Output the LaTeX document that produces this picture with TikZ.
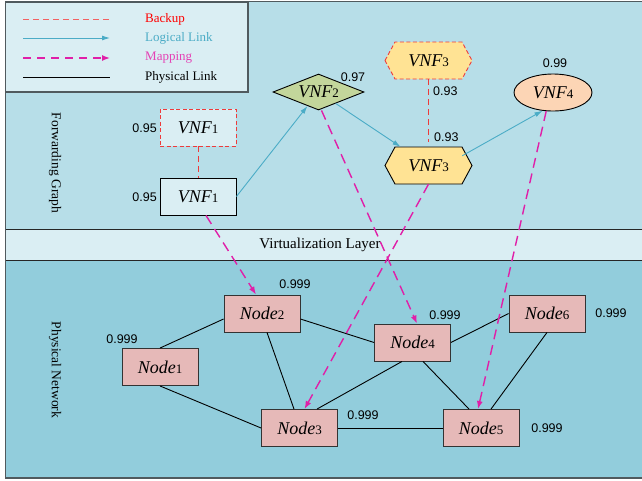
\documentclass[tikz,border=0pt]{standalone}
\usepackage{fontspec}
\setmainfont{Liberation Serif}
\newfontfamily\arialf{Liberation Sans}
\usetikzlibrary{arrows.meta,shapes.geometric,calc}
\definecolor{topbg}{HTML}{B7DEE8}
\definecolor{virtbg}{HTML}{DAEEF3}
\definecolor{botbg}{HTML}{92CDDC}
\definecolor{framec}{HTML}{505A5E}
\definecolor{nodefill}{HTML}{E6B9B8}
\definecolor{vnfgreen}{HTML}{C3D69B}
\definecolor{vnfyellow}{HTML}{FFE394}
\definecolor{vnfpeach}{HTML}{FCD5B5}
\definecolor{bkred}{HTML}{EE3B3B}
\definecolor{lgcyan}{HTML}{4BACC6}
\definecolor{mapmag}{HTML}{E01FA8}
\newcommand{\VNFlab}[1]{{\fontsize{18}{20}\selectfont\itshape VNF}{\fontsize{13}{14}\selectfont #1}}
\newcommand{\Nodelab}[1]{{\fontsize{18}{20}\selectfont\itshape Node}{\fontsize{13}{14}\selectfont #1}}
\tikzset{
  frameline/.style={draw=framec, line width=1.3pt},
  phys/.style={draw=black!80, line width=0.9pt, fill=nodefill, rectangle, minimum width=76pt, minimum height=37pt, inner sep=0pt},
  vnfbox/.style={rectangle, minimum width=76pt, minimum height=37pt, inner sep=0pt, fill=virtbg},
  hexnode/.style={rectangle, minimum width=87pt, minimum height=37pt, inner sep=0pt},
  prob/.style={font=\arialf\fontsize{12.5}{14}\selectfont, inner sep=0pt},
  legtext/.style={font=\fontsize{13}{15}\selectfont, anchor=west, inner sep=0pt},
  sidelabel/.style={font=\fontsize{13.5}{15}\selectfont, rotate=-90, inner sep=0pt},
  backupline/.style={draw=bkred, line width=1pt, dash pattern=on 6pt off 4pt},
  logical/.style={draw=lgcyan, line width=0.9pt, -{Latex[length=8pt,width=5pt]}},
  mapping/.style={draw=mapmag, line width=1.4pt, dash pattern=on 10pt off 6pt, -{Latex[length=8pt,width=6pt]}},
  physlink/.style={draw=black, line width=0.9pt},
}
\begin{document}
\begin{tikzpicture}[x=1pt,y=-1pt]
\useasboundingbox (0,0) rectangle (642,480);
% bands
\fill[topbg] (5,2) rectangle (642,229.5);
\fill[virtbg] (5,229.5) rectangle (642,260.5);
\fill[botbg] (5,260.5) rectangle (642,478);
\draw[black!85, line width=1.1pt] (5,229.5) -- (642,229.5);
\draw[black!85, line width=1.1pt] (5,260.5) -- (642,260.5);
\draw[frameline] (642,1.5) -- (5.5,1.5) -- (5.5,478) -- (642,478);
\node (virt) at (320,245) {\fontsize{15}{17}\selectfont Virtualization Layer};
\node[sidelabel] (fg) at (55,163) {Forwarding Graph};
\node[sidelabel] (pn) at (55,370) {Physical Network};
% legend
\draw[frameline, fill=virtbg] (5.5,2) rectangle (248,92);
\coordinate (l1a) at (23,19); \coordinate (l1b) at (110,19);
\coordinate (l2a) at (23,38); \coordinate (l2b) at (110,38);
\coordinate (l3a) at (23,58); \coordinate (l3b) at (110,58);
\coordinate (l4a) at (23,77); \coordinate (l4b) at (110,77);
\draw[backupline, draw=bkred!80] (l1a) -- (l1b);
\draw[logical] (l2a) -- (l2b);
\draw[mapping, dash pattern=on 8pt off 6pt] (l3a) -- (l3b);
\draw[physlink] (l4a) -- (l4b);
\node[legtext, text=red] (t1) at (145,19) {Backup};
\node[legtext, text=lgcyan] (t2) at (145,38) {Logical Link};
\node[legtext, text=mapmag!85] (t3) at (145,58) {Mapping};
\node[legtext] (t4) at (145,77) {Physical Link};
% VNF shapes
\node[vnfbox, draw=bkred, line width=0.9pt, dash pattern=on 4pt off 2.5pt] (v1b) at (198,127.5) {\VNFlab{1}};
\node[vnfbox, draw=black, line width=0.9pt] (v1) at (198,196.5) {\VNFlab{1}};
\node[diamond, draw=black, line width=0.9pt, fill=vnfgreen, minimum width=91pt, minimum height=36pt, inner sep=0pt, aspect=2.5] (v2) at (318.5,92) {\VNFlab{2}};
\filldraw[fill=vnfyellow, draw=bkred, line width=0.9pt, dash pattern=on 4pt off 2.5pt]
  (385,60.5) -- (395,42) -- (462,42) -- (472,60.5) -- (462,79) -- (395,79) -- cycle;
\filldraw[fill=vnfyellow, draw=black, line width=0.9pt]
  (385,165.5) -- (395,147) -- (462,147) -- (472,165.5) -- (462,184) -- (395,184) -- cycle;
\node[hexnode] (v3b) at (428.5,60.5) {\VNFlab{3}};
\node[hexnode] (v3) at (428.5,165.5) {\VNFlab{3}};
\node[ellipse, draw=black, line width=0.9pt, fill=vnfpeach, minimum width=78pt, minimum height=37pt, inner sep=0pt] (v4) at (553,92.5) {\VNFlab{4}};
% probabilities
\node[prob, anchor=east] (p1b) at (157,128) {0.95};
\node[prob, anchor=east] (p1) at (157,197) {0.95};
\node[prob] (p2) at (353,77) {0.97};
\node[prob, anchor=west] (p3b) at (433,91) {0.93};
\node[prob, anchor=west] (p3) at (434,137) {0.93};
\node[prob] (p4) at (555,63) {0.99};
% backup links
\draw[backupline] (v1b.south) -- (v1.north);
\draw[backupline] (v3b.south) -- ([yshift=5pt]v3.north);
% logical links
\draw[logical] (v1.east) -- (v2);
\draw[logical] (v2) -- (v3);
\draw[logical] ([xshift=-10pt,yshift=-9pt]v3.north east) -- (v4.240);
% physical nodes
\node[phys] (n1) at (160,367) {\Nodelab{1}};
\node[phys] (n2) at (262,313.5) {\Nodelab{2}};
\node[phys] (n3) at (299.5,428) {\Nodelab{3}};
\node[phys] (n4) at (412.5,342.5) {\Nodelab{4}};
\node[phys] (n5) at (481,428) {\Nodelab{5}};
\node[phys] (n6) at (547,313.5) {\Nodelab{6}};
\node[prob] (q1) at (122,339) {0.999};
\node[prob] (q2) at (295,284) {0.999};
\node[prob] (q3) at (363,415) {0.999};
\node[prob] (q4) at (445,315) {0.999};
\node[prob] (q6) at (611,313) {0.999};
\node[prob] (q5) at (547,428) {0.999};
% physical links
\draw[physlink] (n1.north) -- ([yshift=-5.5pt]n2.west);
\draw[physlink] (n1.south) -- (n3.west);
\draw[physlink] ([xshift=5pt]n2.south) -- ([xshift=-5.5pt]n3.north);
\draw[physlink] ([yshift=-5.5pt]n2.east) -- (n4.west);
\draw[physlink] ([xshift=17.5pt]n3.north) -- ([xshift=-10.5pt]n4.south);
\draw[physlink] (n3.east) -- (n5.west);
\draw[physlink] (n4.east) -- (n6.west);
\draw[physlink] ([xshift=10.5pt]n4.south) -- ([xshift=-12pt]n5.north);
\draw[physlink] (n6.south) -- ([xshift=10pt]n5.north);
% mappings
\draw[mapping] ([xshift=8pt]v1.south) -- ([xshift=-6pt]n2.north);
\draw[mapping] ([xshift=3pt]v2.south) -- ([xshift=4.5pt]n4.north);
\draw[mapping] (v3.south) -- ([xshift=5pt]n3.north);
\draw[mapping] (v4.250) -- ([xshift=-3pt]n5.north);
\end{tikzpicture}
\end{document}
